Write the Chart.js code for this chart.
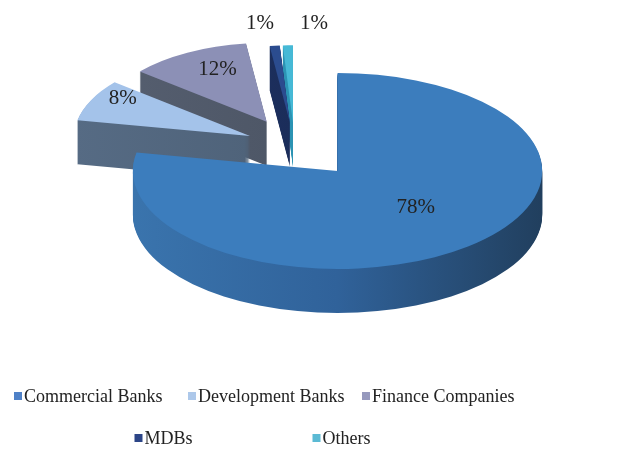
<!DOCTYPE html>
<html>
<head>
<meta charset="utf-8">
<script src="https://cdn.jsdelivr.net/npm/chart.js@4.4.1/dist/chart.umd.min.js"></script>
<style>
  html, body { margin: 0; padding: 0; background: #fff; }
  #wrap { width: 625px; height: 450px; }
</style>
</head>
<body>
<div id="wrap"><canvas id="pie" width="625" height="450"></canvas></div>
<script>
const categories = ['Commercial Banks', 'Development Banks', 'Finance Companies', 'MDBs', 'Others'];
const shares = [78, 8, 12, 1, 1];
const shareLabels = ['78%', '8%', '12%', '1%', '1%'];

const topColors = ['#3c7dbd', '#a4c3ea', '#8c90b6', '#2b4c8f', '#46b9d6'];
const sideColors = [
  ['#3a74ad', '#30629a', '#213f5e'],
  ['#566b84', '#4f637a', '#45576c'],
  ['#565f70', '#4e5767', '#434a58'],
  ['#22386b', '#1b2d5a', '#15244a'],
  ['#3aa3c2', '#2b93b3', '#237d99']
];
const legendColors = ['#4f81c7', '#adc8ea', '#9699bd', '#2c4587', '#5bbad4'];

// look of the 3d pie
const explode = [0.33, 0.28, 0.35, 0.3, 0.3];
const labelRadius = [0.6, 0.8, 0.62, 1.17, 1.17];
const tiltX = 1.274, tiltY = 0.61, persp = 0.13, depth = 44;
const serif = '"Liberation Serif", "Times New Roman", serif';

let mid = a => (a.startAngle + a.endAngle) / 2;

let place = (ctx, arcs, i) => {
  let a = arcs[i],
      m = mid(a),
      f = 1 + persp * Math.sin(m),
      e = explode[i] * a.outerRadius;
  ctx.translate(a.x + Math.cos(m) * e * f * tiltX, a.y + Math.sin(m) * e * f * tiltY);
  ctx.scale(f * tiltX, f * tiltY);
  ctx.translate(-a.x, -a.y);
};

const pie3d = {
  id: 'pie3d',
  beforeDatasetsDraw(chart) {
    const ctx = chart.ctx,
          arcs = chart.getDatasetMeta(0).data,
          order = arcs.map((a, i) => i).sort((i, j) => Math.sin(mid(arcs[i])) - Math.sin(mid(arcs[j])));

    // side walls, stacked downwards
    order.forEach(i => {
      let a = arcs[i];
      for (let d = depth; d > 0; d--) {
        ctx.save();
        ctx.translate(0, d);
        place(ctx, arcs, i);
        let g = ctx.createLinearGradient(a.x - a.outerRadius, 0, a.x + a.outerRadius, 0);
        sideColors[i].forEach((c, k) => g.addColorStop(k / (sideColors[i].length - 1), c));
        ctx.fillStyle = g;
        ctx.beginPath();
        ctx.moveTo(a.x, a.y);
        ctx.arc(a.x, a.y, a.outerRadius, a.startAngle, a.endAngle);
        ctx.closePath();
        ctx.fill();
        ctx.restore();
      }
    });

    // top faces
    order.forEach(i => {
      ctx.save();
      place(ctx, arcs, i);
      arcs[i].draw(ctx);
      ctx.restore();
    });

    // percentage labels
    let pts = arcs.map((a, i) => {
      ctx.save();
      place(ctx, arcs, i);
      let m = mid(a),
          r = a.outerRadius * labelRadius[i],
          p = ctx.getTransform().transformPoint({x: a.x + Math.cos(m) * r, y: a.y + Math.sin(m) * r});
      ctx.restore();
      return {x: p.x, y: p.y - 9, small: labelRadius[i] > 1};
    });
    let small = pts.filter(p => p.small);
    if (small.length > 1) {
      let cx = small[small.length - 1].x;
      small.forEach((p, k) => { p.x = cx + (k - (small.length - 1) / 2) * 54; });
    }
    ctx.save();
    ctx.font = '21px ' + serif;
    ctx.fillStyle = '#222';
    ctx.textAlign = 'center';
    ctx.textBaseline = 'middle';
    pts.forEach((p, i) => ctx.fillText(shareLabels[i], p.x, p.y));
    ctx.restore();
    return false;
  },
  afterDraw(chart) {
    const ctx = chart.ctx,
          rows = [[0, 1, 2], [3, 4]],
          rowY = [397, 439],
          colW = [174, 178],
          left = [14, chart.width / 2 - 178];
    ctx.save();
    ctx.font = '18px ' + serif;
    ctx.textBaseline = 'middle';
    rows.forEach((row, r) => {
      row.forEach((i, k) => {
        let x = left[r] + k * colW[r];
        ctx.fillStyle = legendColors[i];
        ctx.fillRect(x, rowY[r] - 5, 8, 8);
        ctx.fillStyle = '#222';
        ctx.fillText(categories[i], x + 10, rowY[r]);
      });
    });
    ctx.restore();
  }
};

new Chart(document.getElementById('pie'), {
  type: 'pie',
  data: {
    labels: categories,
    datasets: [{
      data: shares,
      backgroundColor: topColors,
      borderWidth: 0
    }]
  },
  options: {
    responsive: false,
    animation: false,
    layout: { padding: { left: 0, right: 36, top: 0, bottom: 158 } },
    plugins: {
      legend: { display: false },
      tooltip: { enabled: false }
    }
  },
  plugins: [pie3d]
});
</script>
</body>
</html>
